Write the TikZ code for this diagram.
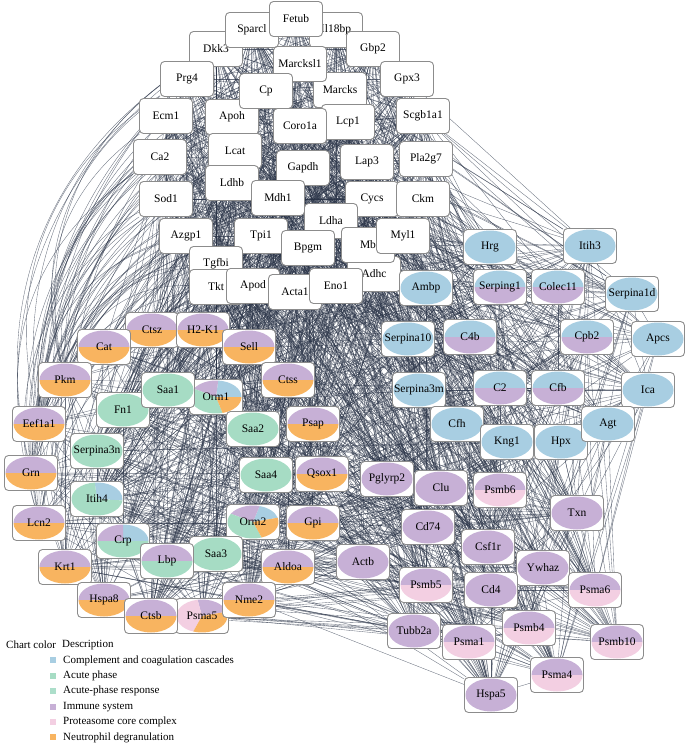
\documentclass[tikz,border=0pt]{standalone}
\usepackage{fontspec}
\setmainfont{Liberation Serif}
\usepackage{tikz}
\usetikzlibrary{backgrounds}
\definecolor{cb}{RGB}{168,206,226}
\definecolor{ca}{RGB}{166,220,196}
\definecolor{cr}{RGB}{172,222,202}
\definecolor{im}{RGB}{199,176,214}
\definecolor{pc}{RGB}{243,207,226}
\definecolor{nd}{RGB}{248,180,96}
\definecolor{edgecol}{RGB}{40,50,70}
\tikzstyle{gene} = [rectangle, rounded corners=4pt, minimum width=53pt, minimum height=35pt, inner sep=0pt, draw=black!45, line width=0.9pt, fill=white, font=\fontsize{11.5}{13}\selectfont]
\tikzstyle{edge} = [draw=edgecol, line width=0.35pt, opacity=0.7]
\tikzstyle{swatch} = [rectangle, minimum size=6pt, inner sep=0pt]
\tikzstyle{legend} = [anchor=west, inner sep=0pt, font=\fontsize{11}{12}\selectfont]
\tikzset{pie/.style={path picture={
  \foreach \col/\sa/\ea in {#1}
    \fill[\col, sharp corners] (path picture bounding box.center) -- ++(\sa:25.5 and 16.5)
      arc[start angle=\sa, end angle=\ea, x radius=25.5, y radius=16.5] -- cycle;
}}}
\tikzstyle{comp} = [gene, pie={cb/0/360}]
\tikzstyle{compimm} = [gene, pie={cb/0/180,im/180/360}]
\tikzstyle{acute} = [gene, pie={ca/0/360}]
\tikzstyle{immune} = [gene, pie={im/0/360}]
\tikzstyle{immneu} = [gene, pie={im/0/180,nd/180/360}]
\tikzstyle{immprot} = [gene, pie={im/0/180,pc/180/360}]
% edge probabilities per pair of groups
\def\pTT{0.6}\def\pTR{0.28}\def\pRT{0.28}\def\pTL{0.45}\def\pLT{0.45}
\def\pTW{0.4}\def\pWT{0.4}\def\pTB{0.35}\def\pBT{0.35}
\def\pRR{0.45}\def\pRL{0.22}\def\pLR{0.22}\def\pRW{0.12}\def\pWR{0.12}
\def\pRB{0.3}\def\pBR{0.3}\def\pLL{0.5}\def\pLW{0.4}\def\pWL{0.4}
\def\pWW{0.4}\def\pLB{0.45}\def\pBL{0.45}\def\pWB{0.35}\def\pBW{0.35}\def\pBB{0.5}
\def\genelist{Fetub/T,Sparcl/T,Il18bp/T,Dkk3/T,Gbp2/T,Marcksl1/T,Prg4/T,Gpx3/T,Cp/T,Marcks/T,
  Ecm1/T,Apoh/T,Coro1a/T,Lcp1/T,Scgb1a1/T,Ca2/T,Lcat/T,Gapdh/T,Lap3/T,Pla2g7/T,Ldhb/T,Sod1/T,
  Mdh1/T,Cycs/T,Ckm/T,Ldha/T,Azgp1/T,Tpi1/T,Bpgm/T,Mb/T,Myl1/T,Tgfbi/T,Tkt/T,Apod/T,Acta1/T,Eno1/T,Adhc/T,
  Hrg/R,Itih3/R,Ambp/R,Serping1/R,Colec11/R,Serpina1d/R,Serpina10/R,C4b/R,Cpb2/R,Apcs/R,
  Serpina3m/R,C2/R,Cfb/R,Ica/R,Cfh/R,Kng1/R,Hpx/R,Agt/R,
  Ctsz/L,H2K1/L,Cat/L,Sell/L,Pkm/W,Ctss/L,Orm1/L,Saa1/L,Fn1/L,Eef1a1/W,Saa2/L,Psap/L,Serpina3n/L,
  Grn/W,Saa4/L,Qsox1/L,Itih4/L,Lcn2/W,Orm2/L,Gpi/L,Crp/L,Saa3/L,Lbp/L,Krt1/W,Aldoa/L,Hspa8/W,
  Psma5/L,Nme2/L,Ctsb/L,
  Pglyrp2/B,Clu/B,Psmb6/B,Txn/B,Cd74/B,Csf1r/B,Actb/B,Ywhaz/B,Psmb5/B,Cd4/B,Psma6/B,Tubb2a/B,
  Psmb4/B,Psma1/B,Psmb10/B,Psma4/B,Hspa5/B}

\begin{document}
\begin{tikzpicture}[x=1pt, y=1pt]
  \useasboundingbox (0,0) rectangle (688,-744);

  \node[gene] (Dkk3) at (216,-49) {Dkk3};
  \node[gene] (Sparcl) at (252,-30) {Sparcl};
  \node[gene] (Il18bp) at (336,-30) {Il18bp};
  \node[gene] (Gbp2) at (373,-49) {Gbp2};
  \node[gene] (Fetub) at (296,-19) {Fetub};
  \node[gene] (Prg4) at (187,-79) {Prg4};
  \node[gene] (Gpx3) at (407,-79) {Gpx3};
  \node[gene] (Marcks) at (340,-90) {Marcks};
  \node[gene] (Marcksl1) at (300,-64) {Marcksl1};
  \node[gene] (Ecm1) at (166,-116) {Ecm1};
  \node[gene] (Apoh) at (232,-117) {Apoh};
  \node[gene] (Cp) at (266,-91) {Cp};
  \node[gene] (Lcp1) at (348,-122) {Lcp1};
  \node[gene] (Coro1a) at (300,-126) {Coro1a};
  \node[gene] (Scgb1a1) at (423,-116) {Scgb1a1};
  \node[gene] (Ca2) at (160,-157) {Ca2};
  \node[gene] (Lcat) at (235,-151) {Lcat};
  \node[gene] (Gapdh) at (303,-168) {Gapdh};
  \node[gene] (Lap3) at (367,-162) {Lap3};
  \node[gene] (Pla2g7) at (426,-159) {Pla2g7};
  \node[gene] (Ldhb) at (232,-183) {Ldhb};
  \node[gene] (Sod1) at (166,-199) {Sod1};
  \node[gene] (Mdh1) at (278,-198) {Mdh1};
  \node[gene] (Cycs) at (372,-199) {Cycs};
  \node[gene] (Ckm) at (423,-199) {Ckm};
  \node[gene] (Ldha) at (331,-221) {Ldha};
  \node[gene] (Azgp1) at (186,-236) {Azgp1};
  \node[gene] (Tpi1) at (261,-236) {Tpi1};
  \node[gene] (Bpgm) at (308,-248) {Bpgm};
  \node[gene] (Adhc) at (374,-274) {Adhc};
  \node[gene] (Mb) at (368,-245) {Mb};
  \node[gene] (Myl1) at (403,-236) {Myl1};
  \node[gene] (Tgfbi) at (216,-264) {Tgfbi};
  \node[gene] (Tkt) at (216,-287) {Tkt};
  \node[gene] (Apod) at (253,-286) {Apod};
  \node[gene] (Acta1) at (295,-292) {Acta1};
  \node[gene] (Eno1) at (336,-286) {Eno1};

  \node[comp] (Hrg) at (490,-247) {Hrg};
  \node[comp] (Itih3) at (590,-246) {Itih3};
  \node[comp] (Ambp) at (426,-288) {Ambp};
  \node[compimm] (Serping1) at (500,-287) {Serping1};
  \node[compimm] (Colec11) at (558,-287) {Colec11};
  \node[comp] (Serpina1d) at (632,-294) {Serpina1d};
  \node[comp] (Serpina10) at (408,-339) {Serpina10};
  \node[compimm] (C4b) at (470,-337) {C4b};
  \node[compimm] (Cpb2) at (587,-337) {Cpb2};
  \node[comp] (Apcs) at (658,-339) {Apcs};
  \node[comp] (Serpina3m) at (419,-390) {Serpina3m};
  \node[compimm] (C2) at (500,-388) {C2};
  \node[compimm] (Cfb) at (558,-388) {Cfb};
  \node[comp] (Ica) at (648,-390) {Ica};
  \node[comp] (Cfh) at (457,-424) {Cfh};
  \node[comp] (Kng1) at (507,-442) {Kng1};
  \node[comp] (Hpx) at (561,-442) {Hpx};
  \node[comp] (Agt) at (608,-424) {Agt};

  \node[immneu] (Ctsz) at (152,-330) {Ctsz};
  \node[immneu] (H2K1) at (203,-330) {H2-K1};
  \node[immneu] (Cat) at (104,-347) {Cat};
  \node[immneu] (Sell) at (249,-347) {Sell};
  \node[immneu] (Pkm) at (65,-380) {Pkm};
  \node[immneu] (Ctss) at (288,-380) {Ctss};
  \node[gene, pie={cb/0/85,im/85/150,ca/150/285,nd/285/360}] (Orm1) at (216,-397) {Orm1};
  \node[acute] (Fn1) at (123,-410) {Fn1};
  \node[acute] (Saa1) at (168,-390) {Saa1};
  \node[immneu] (Eef1a1) at (39,-424) {Eef1a1};
  \node[acute] (Saa2) at (253,-429) {Saa2};
  \node[immneu] (Psap) at (313,-424) {Psap};
  \node[acute] (Serpina3n) at (97,-451) {Serpina3n};
  \node[immneu] (Grn) at (31,-473) {Grn};
  \node[acute] (Saa4) at (266,-475) {Saa4};
  \node[immneu] (Qsox1) at (322,-474) {Qsox1};
  \node[gene, pie={cb/-5/95,ca/95/355}] (Itih4) at (97,-499) {Itih4};
  \node[immneu] (Lcn2) at (39,-523) {Lcn2};
  \node[gene, pie={cb/15/75,im/75/150,ca/150/290,nd/290/375}] (Orm2) at (253,-522) {Orm2};
  \node[immneu] (Gpi) at (313,-523) {Gpi};
  \node[gene, pie={cb/0/90,im/90/180,ca/180/360}] (Crp) at (123,-541) {Crp};
  \node[acute] (Saa3) at (216,-554) {Saa3};
  \node[gene, pie={im/0/180,ca/180/360}] (Lbp) at (167,-561) {Lbp};
  \node[immneu] (Krt1) at (65,-567) {Krt1};
  \node[immneu] (Aldoa) at (288,-567) {Aldoa};
  \node[immneu] (Hspa8) at (104,-600) {Hspa8};
  \node[gene, pie={im/15/100,pc/100/250,nd/250/375}] (Psma5) at (202,-616) {Psma5};
  \node[immneu] (Nme2) at (249,-600) {Nme2};
  \node[immneu] (Ctsb) at (151,-616) {Ctsb};

  \node[immune] (Pglyrp2) at (387,-479) {Pglyrp2};
  \node[immune] (Clu) at (441,-488) {Clu};
  \node[immprot] (Psmb6) at (500,-490) {Psmb6};
  \node[immune] (Txn) at (577,-513) {Txn};
  \node[immune] (Cd74) at (428,-527) {Cd74};
  \node[immune] (Csf1r) at (488,-547) {Csf1r};
  \node[immune] (Actb) at (363,-562) {Actb};
  \node[immune] (Ywhaz) at (543,-568) {Ywhaz};
  \node[immprot] (Psmb5) at (426,-585) {Psmb5};
  \node[immune] (Cd4) at (491,-590) {Cd4};
  \node[immprot] (Psma6) at (595,-590) {Psma6};
  \node[immune] (Tubb2a) at (414,-631) {Tubb2a};
  \node[immprot] (Psmb4) at (529,-628) {Psmb4};
  \node[immprot] (Psma1) at (469,-642) {Psma1};
  \node[immprot] (Psmb10) at (617,-642) {Psmb10};
  \node[immprot] (Psma4) at (557,-675) {Psma4};
  \node[immune] (Hspa5) at (491,-695) {Hspa5};

  \begin{pgfonlayer}{background}
    \pgfmathsetseed{4711}
    \foreach \a/\ga [count=\i] in \genelist {
      \foreach \b/\gb [count=\j] in \genelist {
        \ifnum\j>\i
          \pgfmathsetmacro\rv{rnd}
          \ifdim\rv pt<\csname p\ga\gb\endcsname pt
            \if\ga T\if\gb W\draw[edge] (\a) to[bend right=35] (\b);\else\draw[edge] (\a) -- (\b);\fi
            \else\draw[edge] (\a) -- (\b);\fi
          \fi
        \fi
      }
    }
  \end{pgfonlayer}

  \node[legend] (lchart) at (6,-645) {Chart color};
  \node[legend] (ldesc) at (62,-645) {Description};
  \foreach \col/\txt [count=\k] in {cb/Complement and coagulation cascades, ca/Acute phase,
      cr/Acute-phase response, im/Immune system, pc/Proteasome core complex, nd/Neutrophil degranulation} {
    \node[swatch, fill=\col] (sw\k) at (53,-645-15.4*\k) {};
    \node[legend] (lg\k) at (63,-645-15.4*\k) {\txt};
  }
\end{tikzpicture}
\end{document}
